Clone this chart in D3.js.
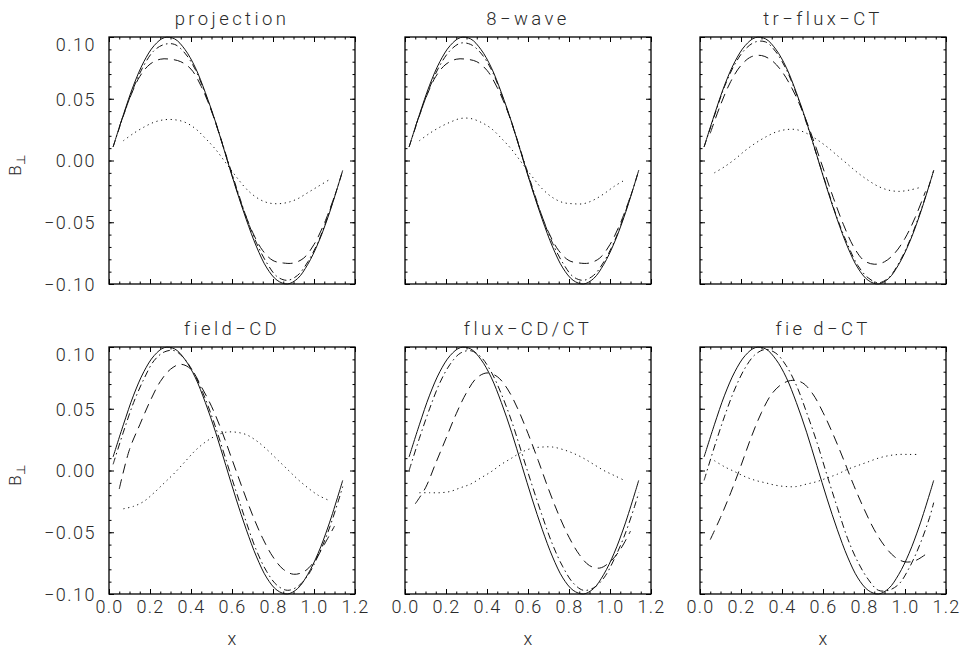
<!DOCTYPE html>
<html>
<head>
<meta charset="utf-8">
<script src="https://cdn.jsdelivr.net/npm/d3@7"></script>
<style>
  body { margin: 0; background: #fff; }
  svg text { font-family: "Roboto", "DejaVu Sans", "Liberation Sans", sans-serif; font-weight: 300; fill: #2a2a2a; }
</style>
</head>
<body>
<svg id="chart" width="967" height="650"></svg>
<script>
// Panel titles and axis tick labels
const panelTitles = ["projection", "8\u2212wave", "tr\u2212flux\u2212CT", "field\u2212CD", "flux\u2212CD/CT", "fie d\u2212CT"];
const xTicks = [0, 0.2, 0.4, 0.6, 0.8, 1.0, 1.2];
const xTickLabels = ["0.0", "0.2", "0.4", "0.6", "0.8", "1.0", "1.2"];
const yTicks = [-0.10, -0.05, 0, 0.05, 0.10];
const yTickLabels = ["\u22120.10", "\u22120.05", "0.00", "0.05", "0.10"];

// Sample positions along x for the three resolutions
const xFine   = [0.02, 0.07, 0.12, 0.17, 0.22, 0.27, 0.32, 0.37, 0.42, 0.47, 0.52, 0.57, 0.62, 0.67, 0.72, 0.77, 0.82, 0.87, 0.92, 0.97, 1.02, 1.07, 1.12, 1.14];
const xMid    = [0.05, 0.10, 0.15, 0.20, 0.25, 0.30, 0.35, 0.40, 0.45, 0.50, 0.55, 0.60, 0.65, 0.70, 0.75, 0.80, 0.85, 0.90, 0.95, 1.00, 1.05, 1.10];
const xCoarse = [0.07, 0.12, 0.17, 0.22, 0.27, 0.32, 0.37, 0.42, 0.47, 0.52, 0.57, 0.62, 0.67, 0.72, 0.77, 0.82, 0.87, 0.92, 0.97, 1.02, 1.07];

// Reference solution (solid line, same in every panel)
const exact = [0.011, 0.037, 0.061, 0.080, 0.093, 0.0995, 0.0985, 0.090, 0.0756, 0.055, 0.031, 0.004, -0.023, -0.048, -0.070, -0.087, -0.097, -0.100, -0.0956, -0.084, -0.067, -0.045, -0.019, -0.008];

// projection
const projDashDot = [0.011, 0.036, 0.059, 0.077, 0.089, 0.094, 0.094, 0.087, 0.074, 0.054, 0.031, 0.005, -0.021, -0.046, -0.067, -0.083, -0.094, -0.097, -0.093, -0.082, -0.066, -0.044, -0.019, -0.008];
const projDashed  = [0.027, 0.050, 0.068, 0.078, 0.082, 0.082, 0.080, 0.074, 0.060, 0.040, 0.015, -0.012, -0.037, -0.058, -0.073, -0.081, -0.083, -0.083, -0.079, -0.068, -0.051, -0.029];
const projDotted  = [0.016, 0.022, 0.027, 0.031, 0.033, 0.033, 0.031, 0.026, 0.018, 0.009, -0.002, -0.013, -0.023, -0.030, -0.034, -0.035, -0.034, -0.031, -0.026, -0.021, -0.016];

// 8-wave
const waveDashDot = [0.011, 0.036, 0.059, 0.077, 0.089, 0.095, 0.094, 0.087, 0.074, 0.054, 0.031, 0.005, -0.021, -0.046, -0.067, -0.083, -0.094, -0.097, -0.093, -0.082, -0.066, -0.044, -0.019, -0.008];
const waveDashed  = [0.027, 0.050, 0.068, 0.078, 0.082, 0.082, 0.080, 0.073, 0.059, 0.040, 0.015, -0.012, -0.037, -0.058, -0.073, -0.081, -0.083, -0.083, -0.079, -0.068, -0.051, -0.029];
const waveDotted  = [0.016, 0.022, 0.027, 0.031, 0.034, 0.034, 0.031, 0.026, 0.018, 0.009, -0.002, -0.013, -0.023, -0.030, -0.034, -0.035, -0.035, -0.032, -0.027, -0.021, -0.016];

// tr-flux-CT
const trDashDot = [0.011, 0.036, 0.060, 0.078, 0.090, 0.096, 0.096, 0.088, 0.074, 0.054, 0.030, 0.004, -0.022, -0.047, -0.068, -0.085, -0.095, -0.099, -0.095, -0.083, -0.066, -0.044, -0.019, -0.008];
const trDashed  = [0.022, 0.045, 0.064, 0.077, 0.084, 0.085, 0.081, 0.072, 0.058, 0.040, 0.018, -0.006, -0.030, -0.052, -0.070, -0.081, -0.084, -0.082, -0.075, -0.063, -0.046, -0.025];
const trDotted  = [-0.010, -0.005, 0.001, 0.008, 0.014, 0.019, 0.023, 0.025, 0.025, 0.022, 0.017, 0.011, 0.004, -0.003, -0.010, -0.016, -0.021, -0.024, -0.025, -0.024, -0.022];

// field-CD
const fcdDashDot = [0.005, 0.031, 0.055, 0.074, 0.089, 0.096, 0.097, 0.090, 0.077, 0.058, 0.035, 0.009, -0.017, -0.042, -0.065, -0.082, -0.093, -0.097, -0.094, -0.085, -0.069, -0.049, -0.024, -0.013];
const fcdDashed  = [-0.015, 0.017, 0.037, 0.056, 0.072, 0.082, 0.086, 0.082, 0.068, 0.052, 0.032, 0.009, -0.014, -0.036, -0.055, -0.070, -0.080, -0.084, -0.082, -0.074, -0.060, -0.045];
const fcdDotted  = [-0.031, -0.029, -0.025, -0.018, -0.010, -0.002, 0.007, 0.016, 0.023, 0.028, 0.031, 0.031, 0.029, 0.024, 0.017, 0.009, 0.001, -0.007, -0.014, -0.020, -0.024];

// flux-CD/CT
const fluxDashDot = [0.000, 0.026, 0.050, 0.071, 0.086, 0.095, 0.097, 0.092, 0.080, 0.062, 0.040, 0.014, -0.012, -0.037, -0.060, -0.078, -0.091, -0.097, -0.095, -0.087, -0.072, -0.053, -0.029, -0.018];
const fluxDashed  = [-0.027, -0.014, 0.006, 0.026, 0.046, 0.063, 0.075, 0.079, 0.076, 0.066, 0.050, 0.030, 0.008, -0.015, -0.036, -0.054, -0.068, -0.077, -0.079, -0.074, -0.064, -0.049];
const fluxDotted  = [-0.018, -0.018, -0.018, -0.017, -0.014, -0.011, -0.006, -0.001, 0.005, 0.010, 0.015, 0.018, 0.019, 0.019, 0.017, 0.014, 0.010, 0.005, 0.000, -0.004, -0.008];

// field-CT
const fctDashDot = [-0.008, 0.019, 0.044, 0.066, 0.083, 0.094, 0.098, 0.095, 0.085, 0.069, 0.047, 0.023, -0.004, -0.030, -0.055, -0.074, -0.088, -0.097, -0.097, -0.092, -0.079, -0.061, -0.038, -0.026];
const fctDashed  = [-0.056, -0.038, -0.018, 0.004, 0.027, 0.047, 0.062, 0.070, 0.073, 0.071, 0.062, 0.047, 0.029, 0.009, -0.012, -0.031, -0.048, -0.061, -0.070, -0.074, -0.073, -0.068];
const fctDotted  = [0.008, 0.003, -0.001, -0.005, -0.008, -0.010, -0.012, -0.013, -0.013, -0.011, -0.009, -0.006, -0.003, 0.001, 0.004, 0.007, 0.010, 0.012, 0.013, 0.013, 0.013];

const panels = [
  { title: panelTitles[0], dashDot: projDashDot, dashed: projDashed, dotted: projDotted },
  { title: panelTitles[1], dashDot: waveDashDot, dashed: waveDashed, dotted: waveDotted },
  { title: panelTitles[2], dashDot: trDashDot,   dashed: trDashed,   dotted: trDotted },
  { title: panelTitles[3], dashDot: fcdDashDot,  dashed: fcdDashed,  dotted: fcdDotted },
  { title: panelTitles[4], dashDot: fluxDashDot, dashed: fluxDashed, dotted: fluxDotted },
  { title: panelTitles[5], dashDot: fctDashDot,  dashed: fctDashed,  dotted: fctDotted }
];

// Layout of the 3 x 2 grid of plot boxes
const W = 246, H = 247;
const colX = [109, 405, 700];
const rowY = [37, 347];
const majorLen = 5, minorLen = 2.5;
const fontSize = 18;

const svg = d3.select("#chart");

const lineStyles = [
  { key: "exact",   xs: xFine,   dash: null },
  { key: "dashDot", xs: xFine,   dash: "7 3.5 1.5 3.5" },
  { key: "dashed",  xs: xMid,    dash: "10 6" },
  { key: "dotted",  xs: xCoarse, dash: "1.2 3.6" }
];

panels.forEach((p, i) => {
  const c = i % 3, r = Math.floor(i / 3);
  const g = svg.append("g").attr("transform", `translate(${colX[c]},${rowY[r]})`);

  const x = d3.scaleLinear().domain([0, 1.2]).range([0, W]);
  const y = d3.scaleLinear().domain([-0.1, 0.1]).range([H, 0]);

  const xMinor = x.ticks(24);
  const yMinor = y.ticks(20);

  const styleAxis = sel => {
    sel.select(".domain").remove();
    sel.selectAll("line").attr("stroke", "#000").attr("stroke-width", 1);
  };

  // minor ticks on all four sides
  g.append("g").attr("transform", `translate(0,${H})`)
    .call(d3.axisBottom(x).tickValues(xMinor).tickSizeInner(-minorLen).tickSizeOuter(0).tickFormat(""))
    .call(styleAxis);
  g.append("g")
    .call(d3.axisTop(x).tickValues(xMinor).tickSizeInner(-minorLen).tickSizeOuter(0).tickFormat(""))
    .call(styleAxis);
  g.append("g")
    .call(d3.axisLeft(y).tickValues(yMinor).tickSizeInner(-minorLen).tickSizeOuter(0).tickFormat(""))
    .call(styleAxis);
  g.append("g").attr("transform", `translate(${W},0)`)
    .call(d3.axisRight(y).tickValues(yMinor).tickSizeInner(-minorLen).tickSizeOuter(0).tickFormat(""))
    .call(styleAxis);

  // major ticks; labels on the outer panels only
  const bottom = g.append("g").attr("transform", `translate(0,${H})`)
    .call(d3.axisBottom(x).tickValues(xTicks).tickSizeInner(-majorLen).tickSizeOuter(0).tickPadding(19)
      .tickFormat((d, k) => r === 1 ? xTickLabels[k] : ""))
    .call(styleAxis);
  bottom.selectAll("text").attr("font-size", fontSize).attr("letter-spacing", 1.2).attr("dy", 0);

  g.append("g")
    .call(d3.axisTop(x).tickValues(xTicks).tickSizeInner(-majorLen).tickSizeOuter(0).tickFormat(""))
    .call(styleAxis);

  const left = g.append("g")
    .call(d3.axisLeft(y).tickValues(yTicks).tickSizeInner(-majorLen).tickSizeOuter(0).tickPadding(13)
      .tickFormat((d, k) => c === 0 ? yTickLabels[k] : ""))
    .call(styleAxis);
  left.selectAll("text").attr("font-size", fontSize).attr("letter-spacing", 1.5)
    .attr("dy", d => d === 0.10 ? "0.76em" : "0.36em");

  g.append("g").attr("transform", `translate(${W},0)`)
    .call(d3.axisRight(y).tickValues(yTicks).tickSizeInner(-majorLen).tickSizeOuter(0).tickFormat(""))
    .call(styleAxis);

  // plot box
  g.append("rect").attr("width", W).attr("height", H)
    .attr("fill", "none").attr("stroke", "#000").attr("stroke-width", 1.3);

  // curves
  lineStyles.forEach(s => {
    const ys = s.key === "exact" ? exact : p[s.key];
    const pts = s.xs.map((xv, k) => [xv, ys[k]]);
    const path = g.append("path")
      .datum(pts)
      .attr("fill", "none")
      .attr("stroke", "#111")
      .attr("stroke-width", 1)
      .attr("d", d3.line().x(d => x(d[0])).y(d => y(d[1])).curve(d3.curveCatmullRom.alpha(0.5)));
    if (s.dash) path.attr("stroke-dasharray", s.dash);
  });

  // title
  g.append("text")
    .attr("x", W / 2).attr("y", -12)
    .attr("text-anchor", "middle")
    .attr("font-size", 18.5)
    .attr("letter-spacing", 3.4)
    .text(p.title);

  // axis titles
  if (r === 1) {
    g.append("text")
      .attr("x", W / 2).attr("y", H + 51)
      .attr("text-anchor", "middle")
      .attr("font-size", fontSize)
      .text("x");
  }
  if (c === 0) {
    const lab = g.append("text")
      .attr("transform", `translate(${-88},${H / 2 + 5}) rotate(-90)`)
      .attr("text-anchor", "middle")
      .attr("font-size", 17);
    lab.append("tspan").text("B");
    lab.append("tspan").attr("font-size", 12).attr("dy", 4).text("\u22a5");
  }
});
</script>
</body>
</html>
